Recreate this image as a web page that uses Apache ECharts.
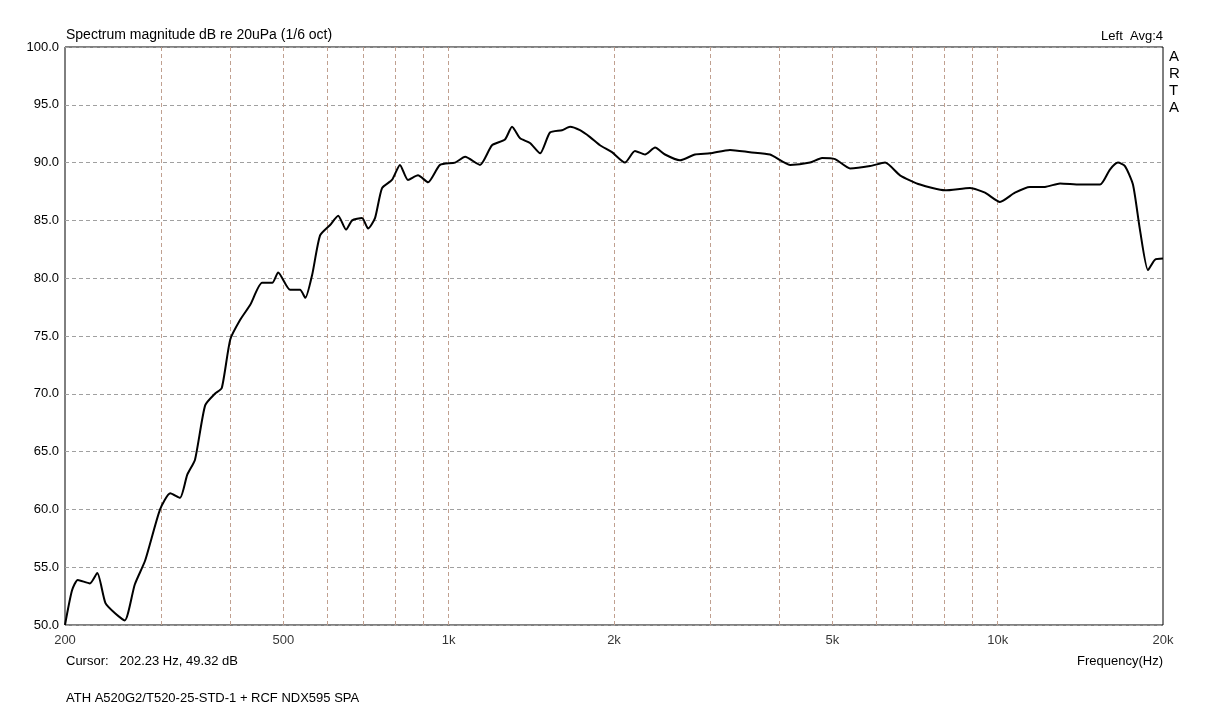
<!DOCTYPE html><html><head><meta charset="utf-8">
<script src="https://cdn.jsdelivr.net/npm/echarts@6/dist/echarts.min.js"></script>
<style>html,body{margin:0;background:#fff}#c{width:1228px;height:709px}</style></head><body><div id="c"></div>
<script>
const freqs=[200,206,211,222,229,237,247,257,268,280,298,311,324,334,345,360,375,386,400,417,435,457,477,489,514,536,548,564,583,608,629,650,667,695,713,734,756,788,815,843,879,917,964,1027,1071,1140,1199,1266,1304,1349,1406,1467,1529,1608,1663,1734,1809,1886,1983,2094,2184,2278,2376,2477,2638,2809,2991,3253,3537,3848,4185,4551,4786,5055,5383,5855,6234,6637,7219,8017,8903,9480,10094,10748,11445,12192,12987,14122,15358,16009,16556,17050,17633,18156,18782,19339,20000];
const levels=[50.0,53.0,53.9,53.6,54.5,51.9,51.0,50.4,53.5,55.6,60,61.4,61,63,64.3,69,70,70.5,74.7,76.4,77.7,79.6,79.6,80.5,79,79,78.3,80.3,83.7,84.6,85.4,84.2,85,85.2,84.3,85.2,87.8,88.5,89.8,88.5,88.9,88.3,89.8,90,90.5,89.8,91.5,92,93.1,92.1,91.7,90.8,92.6,92.8,93.1,92.8,92.2,91.5,90.9,90,91,90.7,91.3,90.7,90.2,90.7,90.8,91.1,90.9,90.7,89.8,90,90.4,90.3,89.5,89.7,90,88.9,88.1,87.6,87.8,87.4,86.6,87.4,87.9,87.9,88.2,88.1,88.1,89.4,90,89.7,88.1,84.2,80.7,81.6,81.7];
const gridFreqs=[300,400,500,600,700,800,900,1000,2000,3000,4000,5000,6000,7000,8000,9000,10000];
const tickFreqs=[200,500,1000,2000,5000,10000,20000];
const tickLabels=['200','500','1k','2k','5k','10k','20k'];
const F='Liberation Sans, Arial, sans-serif';
const ch=echarts.init(document.getElementById('c'));
const ml=gridFreqs.map(f=>({xAxis:f}));
const T=(text,pos,sz)=>Object.assign({text,textStyle:{fontFamily:F,fontSize:sz||13,fontWeight:'normal',color:'#000',lineHeight:17}},pos);
ch.setOption({animation:false,
grid:{left:65,right:65,top:47,bottom:84,show:true,borderColor:'#000',borderWidth:1},
xAxis:{type:'log',logBase:10,min:200,max:20000,axisLabel:{show:false},axisTick:{show:false},splitLine:{show:false},minorSplitLine:{show:false},axisLine:{show:false}},
yAxis:{type:'value',min:50,max:100,interval:5,axisLabel:{formatter:v=>v.toFixed(1),color:'#000',fontFamily:F,fontSize:13,margin:6},axisTick:{show:false},axisLine:{show:false},splitLine:{lineStyle:{color:'#a0a0a0',type:[4,3]}}},
title:[T('Spectrum magnitude dB re 20uPa (1/6 oct)',{left:61,top:22},14),
T('Left  Avg:4',{right:60,top:23}),
T('A\nR\nT\nA',{left:1164,top:43},15),
T('Cursor:   202.23 Hz, 49.32 dB',{left:61,top:648}),
T('Frequency(Hz)',{right:60,top:648}),
T('ATH A520G2/T520-25-STD-1 + RCF NDX595 SPA',{left:61,top:685})],
series:[{type:'line',data:freqs.map((f,i)=>[f,levels[i]]),smooth:0.2,showSymbol:false,lineStyle:{color:'#000',width:2},z:5,
markLine:{silent:true,symbol:'none',label:{show:false},lineStyle:{color:'#c0a090',type:[4,3],width:1},data:ml}},
{type:'scatter',clip:false,data:tickFreqs.map((f,i)=>[f,50,tickLabels[i]]),symbolSize:2,itemStyle:{color:'rgba(0,0,0,0)'},
labelLayout:{hideOverlap:false},
label:{show:true,position:'bottom',distance:8,formatter:p=>p.data[2],color:'#000',fontFamily:F,fontSize:13}}]});
</script></body></html>
